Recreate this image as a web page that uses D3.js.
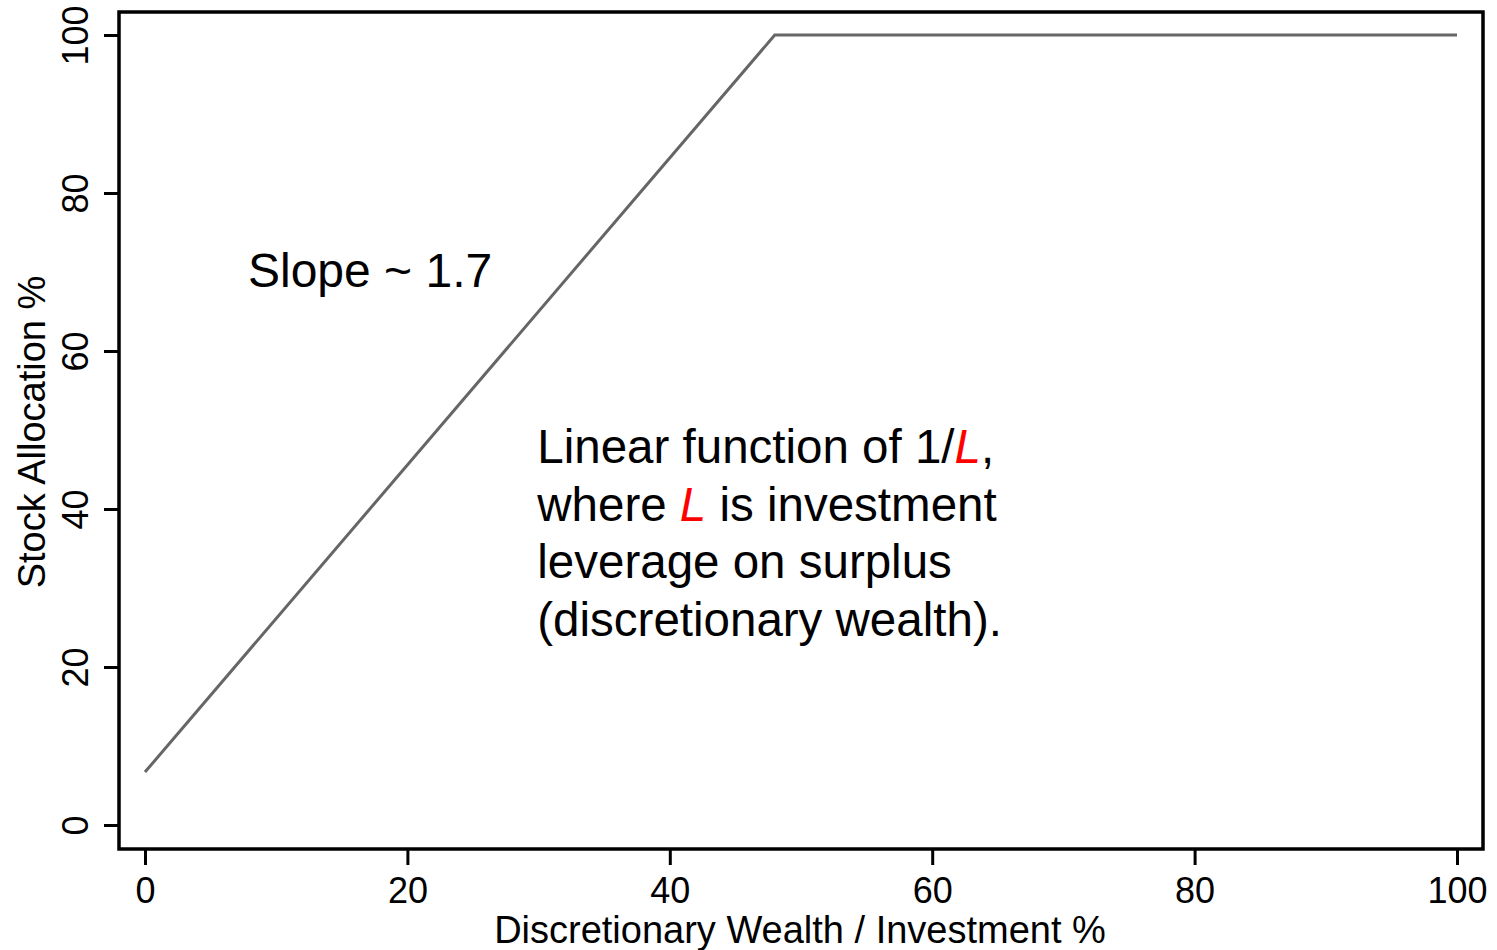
<!DOCTYPE html>
<html>
<head>
<meta charset="utf-8">
<script src="https://cdn.jsdelivr.net/npm/d3@7"></script>
<style>
  body { margin: 0; background: #fff; }
  text { font-family: Arial, "Liberation Sans", sans-serif; fill: #000; }
</style>
</head>
<body>
<div id="chart"></div>
<script>
// data: stock allocation vs discretionary wealth
const wealthPct = [0, 48, 100];
const stockPct = [6.7, 100, 100];
const xTicks = [0, 20, 40, 60, 80, 100];
const yTicks = [0, 20, 40, 60, 80, 100];
const noteLines = [
  [["Linear function of 1/", false], ["L", true], [",", false]],
  [["where ", false], ["L", true], [" is investment", false]],
  [["leverage on surplus", false]],
  [["(discretionary wealth).", false]]
];

const w = 1497, h = 950;

const svg = d3.select("#chart")
  .append("svg")
  .attr("width", w)
  .attr("height", h);

const xScale = d3.scaleLinear().domain([0, 100]).range([145, 1457]);
const yScale = d3.scaleLinear().domain([0, 100]).range([825, 35]);

// plot frame
svg.append("rect")
  .attr("x", 119)
  .attr("y", 12)
  .attr("width", 1483 - 119)
  .attr("height", 849 - 12)
  .attr("fill", "none")
  .attr("stroke", "#000")
  .attr("stroke-width", 3.5);

// x axis
const xAxis = svg.append("g")
  .attr("transform", "translate(0,849)")
  .call(d3.axisBottom(xScale).tickValues(xTicks).tickSize(16).tickSizeOuter(0).tickPadding(12));
xAxis.select(".domain").remove();
xAxis.selectAll("line").attr("stroke", "#000").attr("stroke-width", 3);
xAxis.selectAll("text")
  .attr("font-size", 36)
  .attr("font-family", "Arial, 'Liberation Sans', sans-serif")
  .attr("fill", "#222");

// y axis, labels rotated like stata output
const yAxis = svg.append("g")
  .attr("transform", "translate(119,0)")
  .call(d3.axisLeft(yScale).tickValues(yTicks).tickSize(15).tickSizeOuter(0));
yAxis.select(".domain").remove();
yAxis.selectAll("line").attr("stroke", "#000").attr("stroke-width", 3);
yAxis.selectAll("text")
  .attr("font-size", 36)
  .attr("font-family", "Arial, 'Liberation Sans', sans-serif")
  .attr("fill", "#222")
  .attr("text-anchor", "middle")
  .attr("x", 0).attr("dy", 0)
  .attr("transform", "translate(-31,0) rotate(-90)");

// axis titles
svg.append("text")
  .attr("x", 800)
  .attr("y", 943)
  .attr("text-anchor", "middle")
  .attr("font-size", 38)
  .attr("fill", "#222")
  .text("Discretionary Wealth / Investment %");

svg.append("text")
  .attr("transform", "translate(45,432) rotate(-90)")
  .attr("text-anchor", "middle")
  .attr("font-size", 38)
  .attr("fill", "#222")
  .text("Stock Allocation %");

// the allocation line
const line = d3.line()
  .x((d, i) => xScale(wealthPct[i]))
  .y(d => yScale(d));

svg.append("path")
  .datum(stockPct)
  .attr("fill", "none")
  .attr("stroke", "#666")
  .attr("stroke-width", 3)
  .attr("d", line);

// annotations
svg.append("text")
  .attr("x", xScale(7.85))
  .attr("y", yScale(68.1))
  .attr("font-size", 48)
  .text("Slope ~ 1.7");

const note = svg.append("text")
  .attr("x", xScale(29.9))
  .attr("y", 463)
  .attr("font-size", 47.5);

noteLines.forEach((parts, i) => {
  parts.forEach((p, j) => {
    const ts = note.append("tspan").text(p[0]);
    if (j === 0) ts.attr("x", xScale(29.9)).attr("dy", i === 0 ? 0 : 57.5);
    if (p[1]) ts.attr("fill", "#f00").attr("font-style", "italic");
  });
});
</script>
</body>
</html>
